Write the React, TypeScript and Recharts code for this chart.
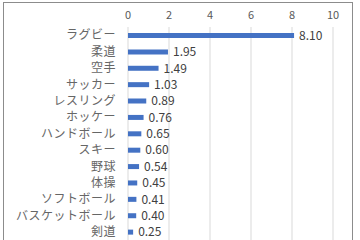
import { BarChart, Bar, XAxis, YAxis, CartesianGrid, LabelList } from 'recharts';

const sports = [
  'ラグビー',
  '柔道',
  '空手',
  'サッカー',
  'レスリング',
  'ホッケー',
  'ハンドボール',
  'スキー',
  '野球',
  '体操',
  'ソフトボール',
  'バスケットボール',
  '剣道',
];

const values = [8.1, 1.95, 1.49, 1.03, 0.89, 0.76, 0.65, 0.6, 0.54, 0.45, 0.41, 0.4, 0.25];

const xTicks = [0, 2, 4, 6, 8, 10];

const data = sports.map((name, i) => ({ name, value: values[i] }));

const FONT = '"Noto Sans CJK JP", "Noto Sans", sans-serif';

export default function App() {
  return (
    <div style={{ position: 'absolute', left: 0, top: 0, width: 360, height: 240, overflow: 'hidden', background: '#fff' }}>
      <div
        style={{
          position: 'absolute',
          left: 3,
          top: 2,
          width: 348,
          height: 260,
          border: '1.5px solid #8c8c8c',
        }}
      />
      <div style={{ position: 'absolute', left: 0, top: 0 }}>
        <BarChart
          width={360}
          height={252}
          data={data}
          layout="vertical"
          margin={{ top: 7, right: 27, bottom: 12, left: 0 }}
          barCategoryGap={0}
        >
          <CartesianGrid horizontal={false} stroke="#d9d9d9" strokeWidth={1} />
          <XAxis
            type="number"
            orientation="top"
            domain={[0, 10]}
            ticks={xTicks}
            axisLine={false}
            tickLine={false}
            tickSize={0}
            tickMargin={8}
            height={20}
            tick={{ fontSize: 11, fill: '#595959', fontFamily: FONT }}
          />
          <YAxis
            type="category"
            dataKey="name"
            width={128}
            axisLine={false}
            tickLine={false}
            tickSize={0}
            tickMargin={12}
            interval={0}
            tick={{ fontSize: 12, fill: '#666666', fontFamily: FONT, letterSpacing: 0.5 }}
          />
          <Bar dataKey="value" fill="#4472c4" barSize={5} isAnimationActive={false}>
            <LabelList
              dataKey="value"
              position="right"
              offset={5}
              formatter={(v: number) => v.toFixed(2)}
              style={{ fontSize: 12, fill: '#404040', fontFamily: FONT }}
            />
          </Bar>
        </BarChart>
      </div>
    </div>
  );
}
